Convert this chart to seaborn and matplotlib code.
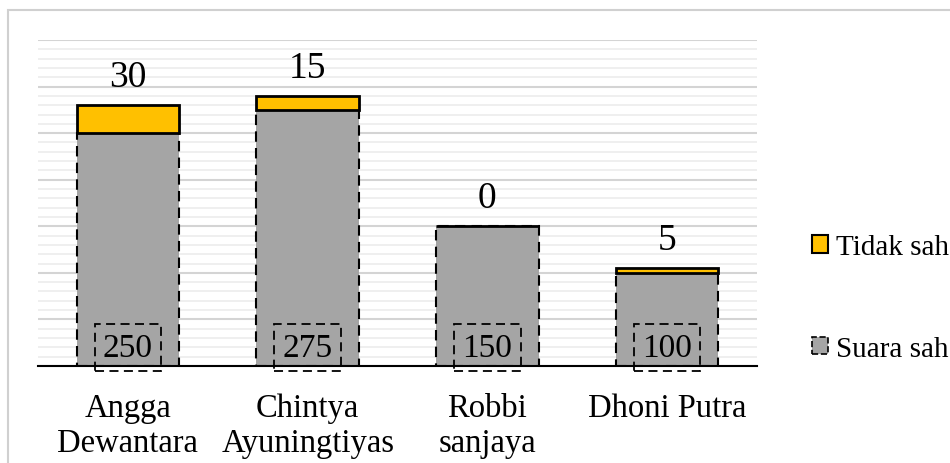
# Grafik batang bertumpuk: suara sah dan tidak sah per kandidat
import matplotlib
matplotlib.use('Agg')
import matplotlib.pyplot as plt
from matplotlib.patches import Patch, Rectangle
from matplotlib.ticker import MultipleLocator
import pandas as pd
import seaborn as sns

# Data
kandidat = ['Angga\nDewantara', 'Chintya\nAyuningtiyas', 'Robbi\nsanjaya', 'Dhoni Putra']
suara_sah = [250, 275, 150, 100]
tidak_sah = [30, 15, 0, 5]

df = pd.DataFrame({'kandidat': kandidat, 'sah': suara_sah, 'tidak': tidak_sah})

sns.set_style('white')
plt.rcParams['font.family'] = ['Liberation Serif', 'DejaVu Serif']
plt.rcParams['text.color'] = 'black'
plt.rcParams['xtick.color'] = 'black'

abu = '#A5A5A5'
emas = '#FFC000'

fig = plt.figure(figsize=(9.5, 4.64), dpi=100)
ax = fig.add_axes([38 / 950, 1 - 367 / 464, (757 - 38) / 950, (367 - 41) / 464])

# Bingkai luar
fig.patches.append(Rectangle((8 / 950, -0.1), 1.2, 1 - 11 / 464 + 0.1, transform=fig.transFigure,
                             fill=False, ec='#D0D0D0', lw=1.5, zorder=0))

# Batang suara sah (seaborn)
sns.barplot(data=df, x='kandidat', y='sah', color=abu, width=0.57, ax=ax,
            edgecolor='black', linewidth=1.5, linestyle=(0, (5, 3)), saturation=1, zorder=3)

# Batang tidak sah di atasnya
pos = range(len(kandidat))
ax.bar(pos, df['tidak'], bottom=df['sah'], width=0.57, color=emas,
       edgecolor='black', linewidth=2, zorder=3)

ax.set_xlim(-0.5, 3.5)
ax.set_ylim(0, 350)
ax.yaxis.set_major_locator(MultipleLocator(50))
ax.yaxis.set_minor_locator(MultipleLocator(10))
ax.grid(axis='y', which='major', color='#D4D4D4', lw=1.5, zorder=0)
ax.grid(axis='y', which='minor', color='#ECECEC', lw=1.2, zorder=0)
ax.set_axisbelow(True)
for s in ['top', 'right', 'left']:
    ax.spines[s].set_visible(False)
ax.spines['bottom'].set_color('black')
ax.spines['bottom'].set_linewidth(1.5)
ax.spines['bottom'].set_zorder(5)
ax.tick_params(axis='y', which='both', left=False, labelleft=False)
ax.tick_params(axis='x', length=0, labelsize=23.5, pad=19)
ax.set_xlabel('')
ax.set_ylabel('')

# Label
for i in pos:
    total = df['sah'][i] + df['tidak'][i]
    ax.annotate(str(df['tidak'][i]), (i, total), xytext=(0, 8), textcoords='offset points',
                ha='center', va='bottom', fontsize=27, zorder=6)
    ax.text(i, 20, str(df['sah'][i]), ha='center', va='center', fontsize=24, zorder=6,
            bbox=dict(boxstyle='square,pad=0.25', fc='none', ec='black', lw=1.3,
                      ls=(0, (5, 3))))

handles = [Patch(fc=emas, ec='black', lw=1.5), Patch(fc=abu, ec='black', lw=1.2, ls='--')]
fig.legend(handles, ['Tidak sah', 'Suara sah'], loc='center left',
           bbox_to_anchor=(786 / 950, 1 - 299 / 464), frameon=False, fontsize=21,
           handlelength=0.55, handleheight=0.55, handletextpad=0.25, labelspacing=2.6)

fig.savefig('out.png', dpi=100)
